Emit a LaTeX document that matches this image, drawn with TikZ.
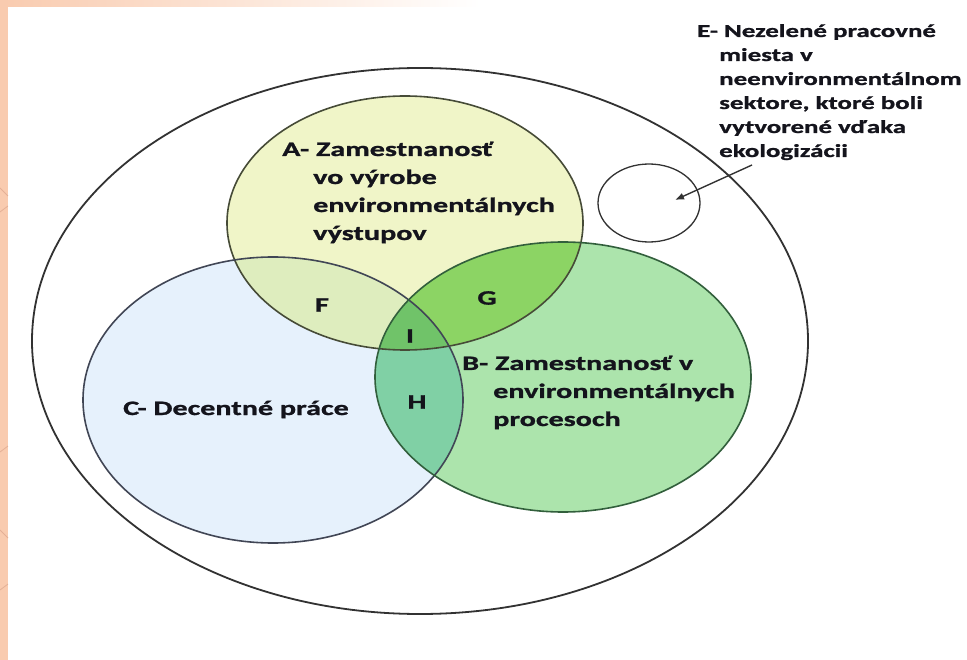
\documentclass[tikz,border=0pt]{standalone}
\usepackage{fontspec}
\usetikzlibrary{shapes.geometric,arrows.meta}
\newfontfamily\lblfont{Carlito}[FakeStretch=1.47, BoldFeatures={FakeBold=1.2}]
\definecolor{peach}{RGB}{249,203,175}
\definecolor{peachline}{RGB}{228,176,150}
\definecolor{colA}{RGB}{240,245,200}
\definecolor{colC}{RGB}{230,241,252}
\definecolor{colB}{RGB}{172,228,172}
\definecolor{colF}{RGB}{222,237,190}
\definecolor{colG}{RGB}{140,212,100}
\definecolor{colH}{RGB}{128,208,165}
\definecolor{colI}{RGB}{112,195,105}
\definecolor{strA}{RGB}{70,75,55}
\definecolor{strB}{RGB}{50,95,60}
\definecolor{strC}{RGB}{65,70,85}
\definecolor{strO}{RGB}{50,50,50}
\definecolor{txt}{RGB}{20,20,28}
\tikzset{
  venn/.style={ellipse, draw, line width=1.6pt, inner sep=0pt},
  lbl/.style={font=\lblfont\bfseries\fontsize{20.5}{28}\selectfont, inner sep=0pt, anchor=base west, text=txt},
  lble/.style={font=\lblfont\bfseries\fontsize{18.3}{24}\selectfont, inner sep=0pt, anchor=base west, text=txt},
  letter/.style={font=\lblfont\bfseries\fontsize{20.5}{28}\selectfont, inner sep=0pt, anchor=center, text=txt},
  arrowline/.style={draw=strO, line width=1.4pt, -{Latex[length=9pt,width=7pt]}},
  stripline/.style={draw=peachline, line width=0.8pt}
}
\begin{document}
\begin{tikzpicture}[x=1pt,y=-1pt]
\useasboundingbox (0,0) rectangle (967,660);
% background
\fill[white] (0,0) rectangle (967,660);
\shade[left color=peach, right color=white] (0,0) rectangle (480,7);
\fill[peach] (0,0) rectangle (8,660);
\draw[stripline] (0,188) -- (8,196);
\draw[stripline] (0,212) -- (8,206);
\draw[stripline] (0,452) -- (8,446);
\draw[stripline] (0,530) -- (8,538);
\draw[stripline] (0,590) -- (8,584);
% fills
\fill[colA] (405,223) ellipse [x radius=178pt, y radius=127pt];
\fill[colC] (273,400) ellipse [x radius=190pt, y radius=143pt];
\fill[colB] (563,377) ellipse [x radius=188pt, y radius=135pt];
\begin{scope}
  \clip (405,223) ellipse [x radius=178pt, y radius=127pt];
  \fill[colF] (273,400) ellipse [x radius=190pt, y radius=143pt];
  \fill[colG] (563,377) ellipse [x radius=188pt, y radius=135pt];
\end{scope}
\begin{scope}
  \clip (273,400) ellipse [x radius=190pt, y radius=143pt];
  \fill[colH] (563,377) ellipse [x radius=188pt, y radius=135pt];
\end{scope}
\begin{scope}
  \clip (405,223) ellipse [x radius=178pt, y radius=127pt];
  \clip (273,400) ellipse [x radius=190pt, y radius=143pt];
  \fill[colI] (563,377) ellipse [x radius=188pt, y radius=135pt];
\end{scope}
% outlines
\node[venn, draw=strO, line width=1.8pt, minimum width=776pt, minimum height=546pt] (outer) at (420,341) {};
\node[venn, draw=strA, minimum width=356pt, minimum height=254pt] (A) at (405,223) {};
\node[venn, draw=strC, minimum width=380pt, minimum height=286pt] (C) at (273,400) {};
\node[venn, draw=strB, minimum width=376pt, minimum height=270pt] (B) at (563,377) {};
\node[venn, draw=strO, line width=1.3pt, minimum width=102pt, minimum height=78pt] (E) at (649,203) {};
% texts
\node[lbl] (tA) at (282,156) {\begin{tabular}[t]{@{}l@{}}A- Zamestnanosť\\\hspace*{31pt}vo výrobe\\\hspace*{31pt}environmentálnych\\\hspace*{31pt}výstupov\end{tabular}};
\node[lbl] (tB) at (462,370) {\begin{tabular}[t]{@{}l@{}}B- Zamestnanosť v\\\hspace*{31pt}environmentálnych\\\hspace*{31pt}procesoch\end{tabular}};
\node[lbl] (tC) at (123,415) {C- Decentné práce};
\node[lble] (tE) at (697,37) {\begin{tabular}[t]{@{}l@{}}E- Nezelené pracovné\\\hspace*{22pt}miesta v\\\hspace*{22pt}neenvironmentálnom\\\hspace*{22pt}sektore, ktoré boli\\\hspace*{22pt}vytvorené vďaka\\\hspace*{22pt}ekologizácii\end{tabular}};
\node[letter] (lF) at (322,305) {F};
\node[letter] (lG) at (487,298) {G};
\node[letter] (lI) at (410,336) {I};
\node[letter] (lH) at (417,402) {H};
% arrow
\coordinate (arrS) at (752,165);
\coordinate (arrT) at (675,200);
\draw[arrowline] (arrS) -- (arrT);
\end{tikzpicture}
\end{document}
